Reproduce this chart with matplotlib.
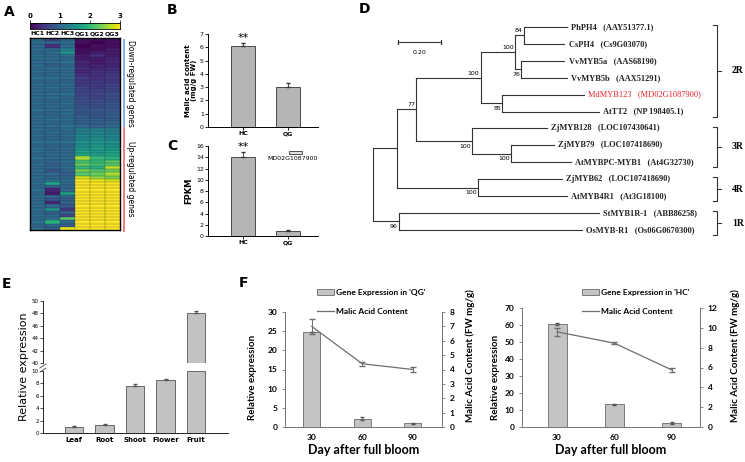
import numpy as np
import matplotlib
matplotlib.use('Agg')
import matplotlib.pyplot as plt
from matplotlib.lines import Line2D
from matplotlib.patches import Rectangle, Patch

W, H = 745, 462

# ---- A: heatmap (HC1 HC2 HC3 QG1 QG2 QG3), values x10 on a 0-3 scale
heat_cols = ['HC1', 'HC2', 'HC3', 'QG1', 'QG2', 'QG3']
heat_rows = [
    '11 06 10 01 01 01', '11 10 11 01 00 01', '10 04 10 00 01 01', '11 10 13 01 01 02',
    '10 11 16 01 02 02', '11 10 11 02 04 02', '11 11 10 02 02 03', '10 10 11 03 02 03',
    '11 09 10 03 03 03', '10 11 11 04 03 04', '11 10 10 03 04 04', '10 10 11 04 04 05',
    '11 11 10 05 04 05', '10 10 10 05 05 05', '11 10 11 05 05 06', '10 11 10 06 05 06',
    '11 10 10 06 06 06', '10 10 11 06 06 07', '11 11 10 07 06 07', '10 10 10 07 07 07',
    '11 10 11 07 07 08', '10 11 10 08 07 08', '11 10 10 08 08 08', '10 10 11 08 08 09',
    '11 10 10 09 08 09', '10 11 11 09 09 09', '11 10 10 09 09 10', '10 10 11 10 09 10',
    '11 10 11 13 13 13', '10 11 10 13 14 13', '11 10 11 14 14 14', '10 10 10 14 15 14',
    '11 11 11 15 15 15', '10 10 10 15 16 15', '11 10 11 16 17 16', '11 10 10 17 16 17',
    '10 11 11 18 17 18', '11 10 10 26 20 19', '10 10 11 21 20 22', '11 09 10 23 21 22',
    '10 10 11 20 19 27', '11 08 10 24 22 23', '10 10 09 22 23 26', '11 10 10 28 25 24',
    '10 11 11 30 29 28', '11 18 10 30 30 30', '10 09 10 30 30 30', '11 03 10 30 30 30',
    '10 02 17 30 30 30', '11 10 10 30 30 30', '10 08 09 30 30 30', '11 03 10 30 30 30',
    '10 10 08 30 30 30', '11 16 05 30 30 30', '10 09 10 30 30 30', '11 10 06 30 30 30',
    '10 11 22 30 30 30', '11 19 10 30 30 30', '10 10 09 30 30 30', '11 09 29 30 30 30',
]
n_down = 28

# ---- B / C
bc_groups = ['HC', 'QG']
malic = [6.1, 3.0]
malic_err = [0.25, 0.3]
fpkm = [14.1, 0.9]
fpkm_err = [0.8, 0.1]

# ---- D: tree (parent index, branch length, bootstrap)
node_parent = [-1, 0, 1, 2, 3, 4, 4, 3, 2, 8, 1, 0,
               5, 5, 6, 6, 7, 7, 8, 9, 9, 10, 10, 11, 11]
node_len = [0, 0.11, 0.09, 0.30, 0.16, 0.04, 0.03, 0.10, 0.26, 0.18, 0.38, 0.12,
            0.20, 0.19, 0.20, 0.21, 0.38, 0.45, 0.35, 0.20, 0.28, 0.39, 0.41, 0.93, 0.85]
node_boot = [None, None, 77, 100, 100, 84, 76, 85, 100, 100, 100, 96,
             None, None, None, None, None, None, None, None, None, None, None, None, None]
tip_names = ['PhPH4', 'CsPH4', 'VvMYB5a', 'VvMYB5b', 'MdMYB123', 'AtTT2', 'ZjMYB128',
             'ZjMYB79', 'AtMYBPC-MYB1', 'ZjMYB62', 'AtMYB4R1', 'StMYB1R-1', 'OsMYB-R1']
tip_acc = ['AAY51377.1', 'Cs9G03070', 'AAS68190', 'AAX51291', 'MD02G1087900', 'NP 198405.1',
           'LOC107430641', 'LOC107418690', 'At4G32730', 'LOC107418690', 'At3G18100',
           'ABB86258', 'Os06G0670300']
clades = [('2R', 0, 5), ('3R', 6, 8), ('4R', 9, 10), ('1R', 11, 12)]

# ---- E
tissues = ['Leaf', 'Root', 'Shoot', 'Flower', 'Fruit']
tissue_expr = [1.0, 1.3, 7.6, 8.6, 48.1]
tissue_err = [0.05, 0.15, 0.3, 0.1, 0.3]

# ---- F
days = ['30', '60', '90']
qg_expr = [24.8, 2.2, 1.0]
qg_expr_err = [0, 0.4, 0.1]
qg_malic = [7.0, 4.4, 4.0]
qg_malic_err = [0.5, 0.15, 0.2]
hc_expr = [60.5, 13.3, 2.2]
hc_expr_err = [0.5, 0.3, 0.5]
hc_malic = [9.6, 8.45, 5.75]
hc_malic_err = [0.4, 0.1, 0.2]

fig = plt.figure(figsize=(7.45, 4.62), dpi=100)


def box(x0, y0, x1, y1):
    return [x0 / W, 1 - y1 / H, (x1 - x0) / W, (y1 - y0) / H]


def ftext(x, y, s, **kw):
    fig.text(x / W, 1 - y / H, s, **kw)


def fline(xs, ys, **kw):
    fig.add_artist(Line2D([v / W for v in xs], [1 - v / H for v in ys], **kw))


for lab, x, y in [('A', 9, 12), ('B', 172, 10), ('C', 172, 146), ('D', 364, 9), ('E', 7, 284), ('F', 244, 283)]:
    ftext(x, y, lab, fontsize=10, fontweight='bold', ha='center', va='center')

# ================= A
heat = np.array([[int(v) for v in r.split()] for r in heat_rows]) / 10.0
nr = len(heat_rows)
axA = fig.add_axes(box(30, 38, 120, 230))
axA.pcolormesh(heat, cmap='viridis', vmin=0, vmax=3)
for r in range(1, nr):
    axA.axhline(r, color='#101828', lw=0.3, alpha=0.6)
for c in range(1, 6):
    axA.axvline(c, color='#101828', lw=0.3, alpha=0.6)
axA.set_xlim(0, 6)
axA.set_ylim(nr, 0)
axA.set_xticks([])
axA.set_yticks([])
for s in axA.spines.values():
    s.set_linewidth(1.0)
for i, c in enumerate(heat_cols):
    ftext(30 + 15 * i + 7.5, 33.5, c, fontsize=4.5, fontweight='bold', ha='center', va='center')

axCb = fig.add_axes(box(30, 23, 120, 29))
axCb.imshow(np.linspace(0, 3, 256)[None, :], aspect='auto', cmap='viridis', extent=[0, 3, 0, 1])
axCb.xaxis.tick_top()
axCb.set_xticks([0, 1, 2, 3])
axCb.set_xticklabels(['0', '1', '2', '3'], fontsize=5, fontweight='bold')
axCb.tick_params(axis='x', length=2, width=0.5, pad=1)
axCb.set_yticks([])
for s in axCb.spines.values():
    s.set_linewidth(0.6)

split_y = 38 + 192 * n_down / nr
fline([124, 124], [40, split_y], color='#7fb0dd', lw=1.4)
fline([124, 124], [split_y, 231], color='#f07c7c', lw=1.4)
ftext(131, (40 + split_y) / 2, 'Down-regulated genes', rotation=-90, fontsize=5.5, ha='center', va='center')
ftext(131, (split_y + 231) / 2, 'Up-regulated genes', rotation=-90, fontsize=5.5, ha='center', va='center')


# ================= B, C
def bar_panel(rect, vals, errs, ymax, ystep):
    ax = fig.add_axes(rect)
    x = np.arange(len(vals))
    ax.bar(x, vals, width=0.53, color='#b5b5b5', edgecolor='#333333', lw=0.6,
           yerr=[[0] * len(errs), errs], error_kw=dict(elinewidth=0.6, capsize=1.5, ecolor='#333333'))
    ax.set_xlim(-0.78, 1.67)
    ax.set_ylim(0, ymax)
    ax.set_yticks(np.arange(0, ymax + 0.1, ystep))
    ax.set_xticks(x)
    ax.set_xticklabels(bc_groups, fontsize=4.5, fontweight='bold')
    ax.tick_params(labelsize=4.5, length=2, width=0.6, pad=1)
    for s in ['top', 'right']:
        ax.spines[s].set_visible(False)
    for s in ['left', 'bottom']:
        ax.spines[s].set_linewidth(0.7)
    ax.text(0, vals[0] + errs[0], '**', ha='center', va='bottom', fontsize=8)
    return ax


axB = bar_panel(box(208, 34, 318, 127), malic, malic_err, 7, 1)
axB.set_ylabel('Malic acid content\n(mg/g FW)', fontsize=5, fontweight='bold', linespacing=1.1, labelpad=2)
axC = bar_panel(box(208, 146, 318, 236), fpkm, fpkm_err, 16, 2)
axC.set_ylabel('FPKM', fontsize=6, fontweight='bold', labelpad=2)
fig.add_artist(Rectangle((289 / W, 1 - 154 / H), 13 / W, 3 / H, transform=fig.transFigure,
                         fc='#e0e0e0', ec='#333333', lw=0.6))
ftext(293, 158.5, 'MD02G1087900', fontsize=4.5, ha='center', va='center')

# ================= D
n = len(node_parent)
children = [[] for _ in range(n)]
for i, p in enumerate(node_parent):
    if p >= 0:
        children[p].append(i)
depth = [0.0] * n
for i in range(1, n):
    depth[i] = depth[node_parent[i]] + node_len[i]
ypos = [0.0] * n
tips = [i for i in range(n) if not children[i]]
for k, t in enumerate(tips):
    ypos[t] = k
for i in range(n - 1, -1, -1):
    if children[i]:
        ypos[i] = (ypos[children[i][0]] + ypos[children[i][-1]]) / 2

axD = fig.add_axes(box(360, 0, 745, 280))
axD.set_xlim(-13 / 215, 372 / 215)
axD.set_ylim((280 - 27) / 16.9, -27 / 16.9)
axD.axis('off')
lc = '#333333'
for i in range(n):
    if children[i]:
        axD.plot([depth[i], depth[i]], [ypos[children[i][0]], ypos[children[i][-1]]], color=lc, lw=0.8)
    if i > 0:
        p = node_parent[i]
        axD.plot([depth[p], depth[i]], [ypos[i], ypos[i]], color=lc, lw=0.8)
        if node_boot[i] is not None:
            upper = ypos[i] < ypos[p]
            axD.text(depth[i] - 0.005, ypos[i] + (-0.12 if upper else 0.15), str(node_boot[i]),
                     ha='right', va='bottom' if upper else 'top', fontsize=4.5)
for k, t in enumerate(tips):
    red = tip_names[k] == 'MdMYB123'
    axD.text(depth[t] + 0.02, ypos[t], tip_names[k] + '   (' + tip_acc[k] + ')',
             ha='left', va='center', fontsize=6, family='Liberation Serif',
             fontweight='normal' if red else 'bold', color='#e8202a' if red else '#222222')
bx = 1.6
for name, a, b in clades:
    y0, y1 = a - 0.1, b + 0.3
    axD.plot([bx - 0.02, bx, bx, bx - 0.02], [y0, y0, y1, y1], color=lc, lw=0.8)
    ym = (y0 + y1) / 2
    axD.plot([bx, bx + 0.02], [ym, ym], color=lc, lw=0.8)
    axD.text(bx + 0.07, ym, name, ha='left', va='center', fontsize=7, fontweight='bold', family='Liberation Serif')
# scale bar 0.20
sy = ypos[tips[0]] + 0.9
axD.plot([0.116, 0.316], [sy, sy], color=lc, lw=0.8)
axD.plot([0.116, 0.116], [sy - 0.12, sy + 0.12], color=lc, lw=0.8)
axD.plot([0.316, 0.316], [sy - 0.12, sy + 0.12], color=lc, lw=0.8)
axD.text(0.216, sy + 0.6, '0.20', ha='center', va='center', fontsize=4.5)

# ================= E
xe = np.arange(len(tissues))
axE1 = fig.add_axes(box(43, 371, 228, 433))
axE2 = fig.add_axes(box(43, 301, 228, 363))
low = [min(v, 10) for v in tissue_expr]
axE1.bar(xe, low, width=0.6, color='#c2c2c2', edgecolor='#555555', lw=0.6)
lo_i = [i for i, v in enumerate(tissue_expr) if v < 10]
axE1.errorbar(xe[lo_i], [tissue_expr[i] for i in lo_i], yerr=[[0] * len(lo_i), [tissue_err[i] for i in lo_i]],
              fmt='none', elinewidth=0.6, capsize=1.5, ecolor='#555555')
hi_i = [i for i, v in enumerate(tissue_expr) if v > 40]
axE2.bar(xe[hi_i], [tissue_expr[i] - 40 for i in hi_i], bottom=40, width=0.6,
         color='#c2c2c2', edgecolor='#555555', lw=0.6)
axE2.errorbar(xe[hi_i], [tissue_expr[i] for i in hi_i], yerr=[[0] * len(hi_i), [tissue_err[i] for i in hi_i]],
              fmt='none', elinewidth=0.6, capsize=1.5, ecolor='#555555')
axE1.set_ylim(0, 10)
axE1.set_yticks([0, 2, 4, 6, 8, 10])
axE2.set_ylim(40, 50)
axE2.set_yticks([40, 42, 44, 46, 48, 50])
for ax in (axE1, axE2):
    ax.set_xlim(-1.02, 5.05)
    ax.tick_params(labelsize=4, length=2, width=0.5, pad=1)
    for s in ['top', 'right']:
        ax.spines[s].set_visible(False)
    ax.spines['left'].set_linewidth(0.6)
    ax.spines['bottom'].set_linewidth(0.6)
axE2.spines['bottom'].set_visible(False)
axE2.set_xticks([])
axE1.set_xticks(xe)
axE1.set_xticklabels(tissues, fontsize=5, fontweight='bold')
axE1.tick_params(axis='x', length=0, pad=3)
fline([40, 46], [368, 364], color='#444444', lw=0.6)
fline([40, 46], [372, 368], color='#444444', lw=0.6)
ftext(24, 367, 'Relative expression', rotation=90, fontsize=8, ha='center', va='center')


# ================= F
def f_panel(rect, xlim, bars, bar_err, line, line_err, ylim1, yt1, ylim2, yt2, leg_label, leg_x):
    ax = fig.add_axes(rect)
    x = np.arange(len(days))
    ax.bar(x, bars, width=0.33, color='#c4c4c4', edgecolor='#6a6a6a', lw=0.6,
           yerr=bar_err, error_kw=dict(elinewidth=0.6, capsize=1.5, ecolor='#555555'))
    ax.set_xlim(*xlim)
    ax.set_ylim(*ylim1)
    ax.set_yticks(yt1)
    ax.set_xticks(x)
    ax.set_xticklabels(days)
    ax2 = ax.twinx()
    ax2.errorbar(x, line, yerr=line_err, color='#6e6e6e', lw=0.9, elinewidth=0.7, capsize=2)
    ax2.set_ylim(*ylim2)
    ax2.set_yticks(yt2)
    for a in (ax, ax2):
        a.spines['top'].set_visible(False)
        for s in ['left', 'right', 'bottom']:
            a.spines[s].set_color('#777777')
            a.spines[s].set_linewidth(0.7)
        a.tick_params(labelsize=6, length=2.5, width=0.6, color='#777777', pad=3)
        for t in a.get_yticklabels() + a.get_xticklabels():
            t.set_fontweight('bold')
            t.set_family('Lato')
    ax.tick_params(axis='x', length=0, pad=5)
    ax.set_xlabel('Day after full bloom', fontsize=9, fontweight='bold', family='Lato', labelpad=2)
    ax.set_ylabel('Relative expression', fontsize=7, fontweight='bold', family='Lato')
    ax2.set_ylabel('Malic Acid Content (FW mg/g)', fontsize=7, fontweight='bold', family='Lato')
    handles = [Patch(fc='#c4c4c4', ec='#6a6a6a', lw=0.6), Line2D([], [], color='#6e6e6e', lw=0.9)]
    fig.legend(handles, [leg_label, 'Malic Acid Content'], loc='upper left',
               bbox_to_anchor=(leg_x / W, 1 - 289 / H), frameon=False, handlelength=2.0,
               handleheight=0.8, handletextpad=0.3, labelspacing=1.45,
               prop=dict(family='Lato', weight='bold', size=6), borderaxespad=0, borderpad=0)
    return ax, ax2


axF1, axF1r = f_panel(box(285, 312, 442, 427), (-0.53, 2.58), qg_expr, qg_expr_err, qg_malic, qg_malic_err,
                      (0, 30), [0, 5, 10, 15, 20, 25, 30], (0, 8), range(0, 9), "Gene Expression in 'QG'", 317)
axF2, axF2r = f_panel(box(522, 308, 700, 427), (-0.61, 2.49), hc_expr, hc_expr_err, hc_malic, hc_malic_err,
                      (0, 70), range(0, 71, 10), (0, 12), range(0, 13, 2), "Gene Expression in 'HC'", 582)
axF1.yaxis.set_label_coords(-0.18, 0.43)
axF1r.yaxis.set_label_coords(1.15, 0.62)
axF2.yaxis.set_label_coords(-0.125, 0.42)
axF2r.yaxis.set_label_coords(1.17, 0.6)

fig.savefig('out.png', dpi=100)
